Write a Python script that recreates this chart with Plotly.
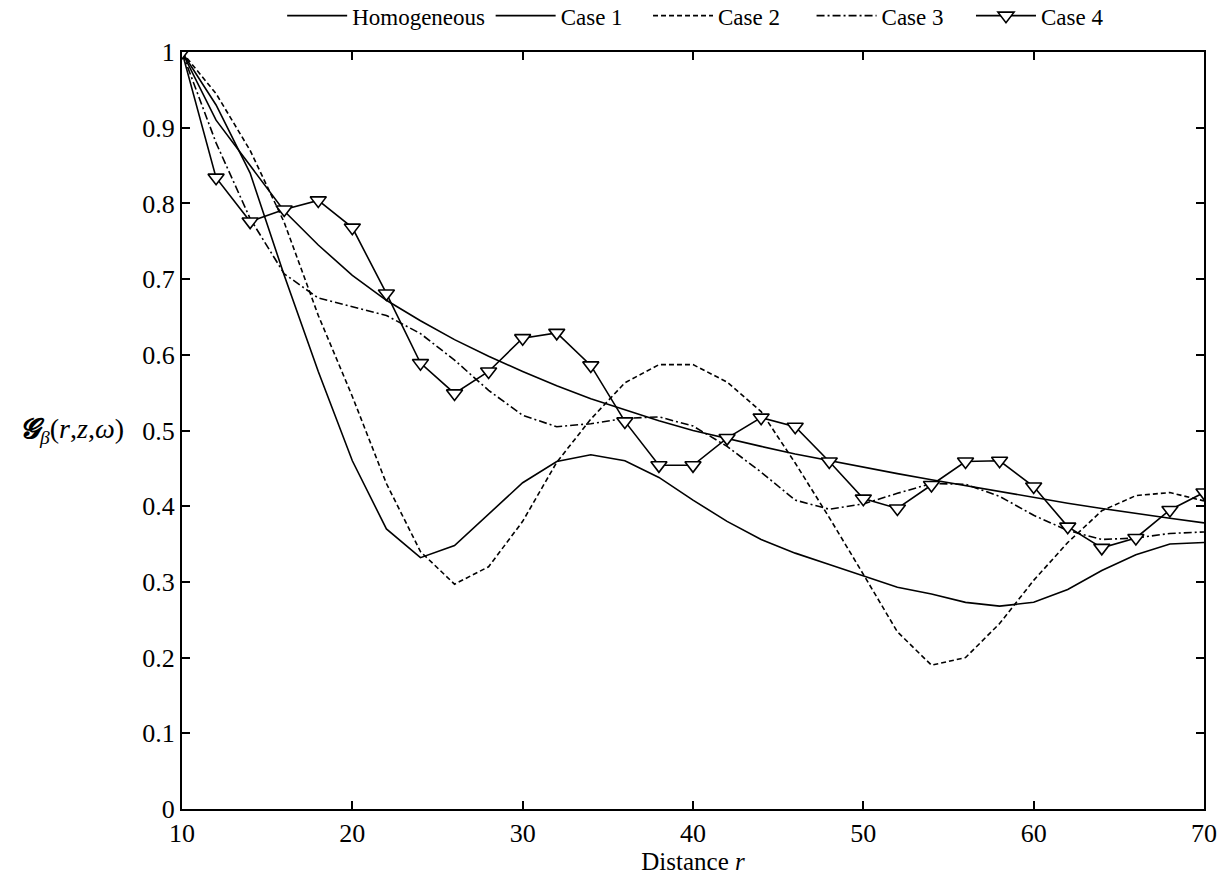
import plotly.graph_objects as go

r = [10, 12, 14, 16, 18, 20, 22, 24, 26, 28, 30, 32, 34, 36, 38, 40,
     42, 44, 46, 48, 50, 52, 54, 56, 58, 60, 62, 64, 66, 68, 70]

homogeneous = [1.0, 0.91, 0.85, 0.79, 0.745, 0.705, 0.672, 0.645, 0.62, 0.598, 0.578,
               0.559, 0.542, 0.527, 0.513, 0.500, 0.489, 0.479, 0.469, 0.460, 0.451,
               0.443, 0.435, 0.427, 0.420, 0.412, 0.404, 0.397, 0.390, 0.384, 0.378]

case1 = [1.0, 0.93, 0.84, 0.705, 0.578, 0.46, 0.37, 0.332, 0.348, 0.39, 0.431,
         0.459, 0.468, 0.460, 0.438, 0.408, 0.380, 0.356, 0.338, 0.323, 0.308,
         0.293, 0.284, 0.273, 0.268, 0.273, 0.290, 0.315, 0.336, 0.350, 0.352]

case2 = [1.0, 0.945, 0.87, 0.775, 0.652, 0.545, 0.43, 0.34, 0.297, 0.32, 0.38,
         0.458, 0.515, 0.563, 0.587, 0.587, 0.564, 0.525, 0.457, 0.385, 0.31,
         0.234, 0.19, 0.2, 0.245, 0.302, 0.352, 0.394, 0.414, 0.418, 0.407]

case3 = [1.0, 0.88, 0.78, 0.707, 0.675, 0.663, 0.652, 0.628, 0.593, 0.553, 0.52,
         0.505, 0.509, 0.516, 0.518, 0.506, 0.479, 0.445, 0.408, 0.396, 0.403,
         0.417, 0.430, 0.429, 0.413, 0.388, 0.368, 0.356, 0.358, 0.364, 0.366]

case4 = [1.0, 0.834, 0.776, 0.792, 0.804, 0.768, 0.681, 0.589, 0.549, 0.578, 0.622,
         0.629, 0.586, 0.512, 0.454, 0.454, 0.490, 0.517, 0.505, 0.459, 0.410,
         0.397, 0.428, 0.459, 0.460, 0.426, 0.373, 0.345, 0.358, 0.395, 0.418]

series_names = ["Homogeneous", "Case 1", "Case 2", "Case 3", "Case 4"]
x_ticks = [10, 20, 30, 40, 50, 60, 70]
y_ticks = [0, 0.1, 0.2, 0.3, 0.4, 0.5, 0.6, 0.7, 0.8, 0.9, 1]
y_tick_labels = ["0", "0.1", "0.2", "0.3", "0.4", "0.5", "0.6", "0.7", "0.8", "0.9", "1"]

FONT = "Liberation Serif"
LW = 1.6
legend_ids = ["legend", "legend2", "legend3", "legend4", "legend5"]
legend_x = [0.098, 0.302, 0.456, 0.616, 0.772]

fig = go.Figure()
fig.add_trace(go.Scatter(x=r, y=homogeneous, mode="lines", name=series_names[0],
                         legend=legend_ids[0], line=dict(color="black", width=LW)))
fig.add_trace(go.Scatter(x=r, y=case1, mode="lines", name=series_names[1],
                         legend=legend_ids[1], line=dict(color="black", width=LW)))
fig.add_trace(go.Scatter(x=r, y=case2, mode="lines", name=series_names[2],
                         legend=legend_ids[2],
                         line=dict(color="black", width=LW, dash="5px,3px")))
fig.add_trace(go.Scatter(x=r, y=case3, mode="lines", name=series_names[3],
                         legend=legend_ids[3],
                         line=dict(color="black", width=LW, dash="8px,3px,2px,3px")))
fig.add_trace(go.Scatter(x=r, y=case4, mode="lines+markers", name=series_names[4],
                         legend=legend_ids[4], line=dict(color="black", width=LW),
                         marker=dict(symbol="triangle-down", size=14, color="white",
                                     line=dict(color="black", width=1.6))))

axis_common = dict(
    showgrid=False, zeroline=False, showline=True, linecolor="black", linewidth=2,
    mirror="ticks", ticks="inside", ticklen=8, tickwidth=1.5, tickcolor="black",
    tickfont=dict(family=FONT, size=26, color="black"), automargin=False,
)

fig.update_xaxes(range=[10, 70], tickvals=x_ticks, **axis_common,
                 title=dict(text="Distance <i>r</i>", font=dict(family=FONT, size=25, color="black"),
                            standoff=4))
fig.update_yaxes(range=[0, 1], tickvals=y_ticks, ticktext=y_tick_labels, **axis_common)

fig.add_annotation(
    text="<b><i>\U0001D4D6</i></b><sub><i>β</i></sub>(<i>r</i>,<i>z</i>,<i>ω</i>)",
    xref="paper", yref="paper", x=-0.055, y=0.5, xanchor="right", yanchor="middle",
    showarrow=False, font=dict(family=FONT, size=28, color="black"),
)

legend_style = dict(orientation="h", y=1.048, yanchor="middle", xanchor="left",
                    font=dict(family=FONT, size=23, color="black"),
                    bgcolor="rgba(0,0,0,0)", itemwidth=60)

fig.update_layout(
    width=1224, height=877,
    margin=dict(l=182, r=20, t=52, b=68, autoexpand=False),
    paper_bgcolor="white", plot_bgcolor="white",
    font=dict(family=FONT, size=23, color="black"),
    showlegend=True,
    legend=dict(x=legend_x[0], **legend_style),
    legend2=dict(x=legend_x[1], **legend_style),
    legend3=dict(x=legend_x[2], **legend_style),
    legend4=dict(x=legend_x[3], **legend_style),
    legend5=dict(x=legend_x[4], **legend_style),
)

fig.write_html("out.html")
